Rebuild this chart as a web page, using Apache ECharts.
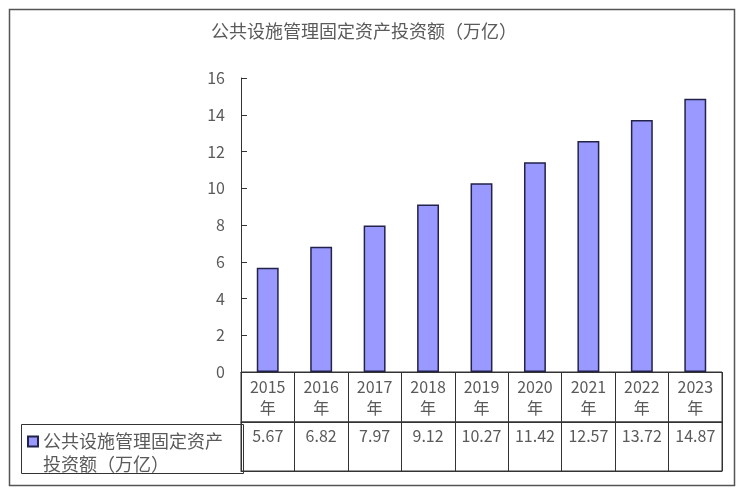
<!DOCTYPE html>
<html>
<head>
<meta charset="utf-8">
<script src="https://cdn.jsdelivr.net/npm/echarts@6/dist/echarts.min.js"></script>
<style>
html,body{margin:0;padding:0;background:#fff;}
#chart{width:740px;height:491px;}
</style>
</head>
<body>
<div id="chart"></div>
<script>
var categories = ['2015', '2016', '2017', '2018', '2019', '2020', '2021', '2022', '2023'];
var values = [5.67, 6.82, 7.97, 9.12, 10.27, 11.42, 12.57, 13.72, 14.87];
var seriesName = '公共设施管理固定资产投资额（万亿）';
var titleText = '公共设施管理固定资产投资额（万亿）';
var legendLines = ['公共设施管理固定资产', '投资额（万亿）'];
var yTicks = {min: 0, max: 16, interval: 2};

var FONT = '"Noto Sans CJK SC", "Noto Sans", sans-serif';
var TXT = '#5a5a5a';
var LINE = '#333333';

var chart = echarts.init(document.getElementById('chart'), null, {renderer: 'canvas'});
var option = {
  animation: false,
  backgroundColor: '#ffffff',
  textStyle: {fontFamily: FONT},
  title: {
    text: titleText,
    left: 206,
    top: 17,
    textStyle: {fontSize: 18, fontWeight: 'normal', color: TXT, fontFamily: FONT}
  },
  legend: {
    data: [seriesName],
    left: 22,
    top: 402,
    padding: 5,
    itemWidth: 10,
    itemHeight: 10,
    itemGap: 0,
    icon: 'rect',
    formatter: function () { return '\n' + legendLines.join('\n'); },
    textStyle: {fontSize: 18, color: TXT, lineHeight: 23, fontFamily: FONT}
  },
  grid: [
    {left: 241, right: 18, top: 78, bottom: 119},
    {left: 241, right: 18, top: 372, height: 50, show: true, borderColor: LINE, borderWidth: 1},
    {left: 241, right: 18, top: 422, height: 49, show: true, borderColor: LINE, borderWidth: 1}
  ],
  xAxis: [
    {
      type: 'category', gridIndex: 0, data: categories,
      axisLine: {show: true, lineStyle: {color: LINE, width: 1}},
      axisTick: {show: false}, axisLabel: {show: false}
    },
    {
      type: 'category', gridIndex: 1, data: categories, position: 'top',
      axisLine: {show: true, lineStyle: {color: LINE, width: 1}},
      axisTick: {show: false},
      splitLine: {show: true, interval: 0, lineStyle: {color: LINE, width: 1}},
      axisLabel: {
        show: true, inside: true, margin: 4, interval: 0, color: TXT, fontSize: 16, lineHeight: 21,
        fontFamily: FONT,
        formatter: function (v) { return v + '\n年'; }
      }
    },
    {
      type: 'category', gridIndex: 2, data: categories, position: 'top',
      axisLine: {show: true, lineStyle: {color: LINE, width: 1}},
      axisTick: {show: false},
      splitLine: {show: true, interval: 0, lineStyle: {color: LINE, width: 1}},
      axisLabel: {
        show: true, inside: true, margin: 6, interval: 0, color: TXT, fontSize: 16,
        fontFamily: FONT,
        formatter: function (v, i) { return values[i].toFixed(2); }
      }
    }
  ],
  yAxis: [
    {
      type: 'value', gridIndex: 0, min: yTicks.min, max: yTicks.max, interval: yTicks.interval,
      axisLine: {show: true, lineStyle: {color: LINE, width: 1}},
      axisTick: {show: true, inside: true, length: 6, lineStyle: {color: LINE, width: 1}},
      axisLabel: {color: TXT, fontSize: 16, margin: 16, fontFamily: FONT},
      splitLine: {show: false}
    },
    {type: 'value', gridIndex: 1, min: 0, max: 1, show: false},
    {type: 'value', gridIndex: 2, min: 0, max: 1, show: false}
  ],
  series: [
    {
      name: seriesName,
      type: 'bar',
      xAxisIndex: 0,
      yAxisIndex: 0,
      data: values,
      barCategoryGap: '59%',
      itemStyle: {color: '#9999ff', borderColor: '#22224a', borderWidth: 1.5}
    }
  ],
  graphic: [
    {
      type: 'rect', left: 7, top: 7, silent: true, z: -1,
      shape: {width: 725, height: 476},
      style: {fill: 'none', stroke: '#555555', lineWidth: 1.5}
    },
    {
      type: 'rect', left: 19, top: 422, silent: true,
      shape: {width: 222, height: 49},
      style: {fill: 'none', stroke: LINE, lineWidth: 1}
    }
  ]
};
chart.setOption(option);
</script>
</body>
</html>
